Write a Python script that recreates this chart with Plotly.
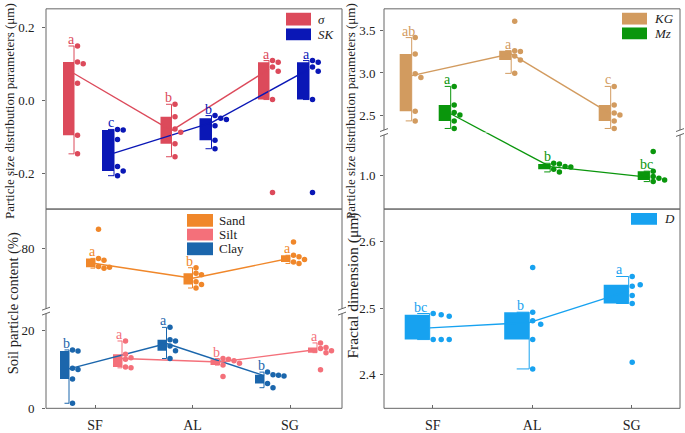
import numpy as np
import plotly.graph_objects as go

cats = ["SF", "AL", "SG"]

# top-left: sigma and SK
sigma_pts = [[0.150, 0.106, 0.101, 0.048, -0.095, -0.146],
             [-0.010, -0.044, -0.078, -0.087, -0.118, -0.154],
             [0.110, 0.1055, 0.092, 0.081, 0.003, -0.252]]
sigma_letters = ["a", "b", "a"]
sk_pts = [[-0.079, -0.0805, -0.107, -0.181, -0.193, -0.206],
          [-0.041, -0.048, -0.052, -0.069, -0.109, -0.132],
          [0.110, 0.1055, 0.092, 0.081, 0.003, -0.252]]
sk_letters = ["c", "b", "a"]

# top-right: KG and Mz
kg_pts = [[3.42, 3.226, 2.99, 2.945, 2.545, 2.43],
          [3.615, 3.265, 3.255, 3.2, 3.155, 2.995],
          [2.84, 2.62, 2.525, 2.5, 2.43, 2.34]]
kg_letters = ["ab", "a", "c"]
mz_pts = [[2.84, 2.62, 2.53, 2.5, 2.43, 2.34],
          [1.148, 1.14, 1.11, 1.105, 1.078, 1.045],
          [1.288, 1.054, 0.99, 0.97, 0.95, 0.93]]
mz_letters = ["a", "b", "bc"]

# bottom-left: soil particle content
sand_pts = [[85.0, 77.5, 77.0, 75.4, 75.0, 75.2],
            [75.1, 73.7, 73.3, 71.5, 70.8, 69.9],
            [81.7, 78.3, 77.9, 77.2, 76.6, 76.2]]
sand_letters = ["a", "b", "a"]
silt_pts = [[17.3, 13.9, 13.0, 12.6, 10.6, 10.4],
            [12.8, 12.6, 12.2, 11.6, 11.1, 8.2],
            [16.8, 15.6, 15.4, 14.8, 14.3, 9.9]]
silt_letters = ["a", "b", "a"]
clay_pts = [[15.0, 14.7, 10.3, 10.0, 7.5, 1.3],
            [20.8, 17.6, 17.3, 16.0, 14.8, 12.8],
            [9.3, 8.6, 8.5, 8.3, 6.4, 5.3]]
clay_letters = ["b", "a", "b"]

# bottom-right: fractal dimension
d_pts = [[2.492, 2.490, 2.488, 2.453, 2.453, 2.453],
         [2.561, 2.494, 2.481, 2.476, 2.453, 2.409],
         [2.5475, 2.533, 2.519, 2.535, 2.507, 2.419]]
d_letters = ["bc", "b", "a"]

# tick values / labels per y axis
a_ticks = [-0.2, 0.0, 0.2]
a_ticktext = ["-0.2", "0.0", "0.2"]
b_up_ticks = [2.5, 3.0, 3.5]
b_lo_ticks = [1.0]
c_up_ticks = [80]
c_lo_ticks = [0, 20]
d_ticks = [2.4, 2.5, 2.6]

W, H = 685, 433
FONT = "Liberation Serif, Times New Roman, DejaVu Serif, serif"
FRAME = "#666666"
TXT = "#222222"


def fx(p):
    return p / W


def fy(p):
    return 1 - p / H


# panel geometry in pixels; segs = (axis id, lo, hi, px top, px bottom)
panels = {
    "a": dict(x0=46, x1=342, c0=95, c2=290, segs=[(1, -0.2976, 0.252, 9, 213)]),
    "b": dict(x0=384, x1=680, c0=432.7, c2=631.7,
              segs=[(2, 2.292, 3.762, 9, 135), (3, 0.603, 1.514, 135, 213)]),
    "c": dict(x0=46, x1=342, c0=95, c2=290,
              segs=[(4, 63.96, 90.16, 213, 317), (5, 0.0, 24.97, 317, 416)]),
    "d": dict(x0=384, x1=680, c0=432.7, c2=631.7, segs=[(6, 2.35, 2.6485, 213, 416)]),
}
for p in panels.values():
    p["step"] = (p["c2"] - p["c0"]) / 2.0


def ax(n):
    return ("x", "y") if n == 1 else ("x%d" % n, "y%d" % n)


def seg_for(panel, v):
    for s in panel["segs"]:
        if s[1] <= v <= s[2]:
            return s
    return panel["segs"][0]


def vpx(s, v):
    return s[3] + (s[2] - v) / (s[2] - s[1]) * (s[4] - s[3])


def stats(vals):
    s = sorted(vals)
    h = len(s) // 2
    q1 = float(np.median(s[:h]))
    q3 = float(np.median(s[len(s) - h:]))
    med = float(np.median(s))
    iqr = q3 - q1
    inside = [v for v in s if q1 - 1.5 * iqr <= v <= q3 + 1.5 * iqr]
    return q1, med, q3, min(inside), max(inside)


def columns(panel, vals, gap=5.0):
    placed, cols = [], []
    for v in vals:
        y = vpx(seg_for(panel, v), v)
        k = 0
        while any(c == k and abs(yy - y) < gap for c, yy in placed):
            k += 1
        placed.append((k, y))
        cols.append(k)
    return cols


# (panel, color, points, letters, box right edge offset px, box width px, dot step px, letter shift px)
series = [
    ("a", "#DC4A5B", sigma_pts, sigma_letters, -21, 11, 5.7, 3),
    ("a", "#0A17B6", sk_pts, sk_letters, 19, 12, 5.7, 3),
    ("b", "#D29B5F", kg_pts, kg_letters, -21, 12, 5.7, 3),
    ("b", "#0A960C", mz_pts, mz_letters, 18, 12, 5.7, 3),
    ("c", "#1B66AC", clay_pts, clay_letters, -26, 9, 5.5, 3),
    ("c", "#F0872A", sand_pts, sand_letters, 0, 9, 5.5, 3),
    ("c", "#F4707A", silt_pts, silt_letters, 27, 9, 5.5, 3),
    ("d", "#17A2F0", d_pts, d_letters, -3, 25, 8.0, 9),
]

fig = go.Figure()
annotations = []

# median lines first, so the boxes sit on top of them
for pk, color, pts, letters, off, bw, dstep, lsh in series:
    panel = panels[pk]
    u = 1.0 / panel["step"]
    meds = [stats(p)[1] for p in pts]
    xs = [i + off * u for i in range(len(cats))]
    lines = {}
    for i in range(len(xs) - 1):
        x1, v1, x2, v2 = xs[i], meds[i], xs[i + 1], meds[i + 1]
        s1, s2 = seg_for(panel, v1), seg_for(panel, v2)
        if s1 == s2:
            lines.setdefault(s1[0], []).extend([(x1, v1), (x2, v2), (None, None)])
        else:
            up, lo = (s1, s2) if s1[3] < s2[3] else (s2, s1)
            yb = up[4]
            p1, p2 = vpx(s1, v1), vpx(s2, v2)
            t = (yb - p1) / (p2 - p1)
            xb = x1 + t * (x2 - x1)
            e1 = s1[1] if s1 is up else s1[2]
            e2 = s2[2] if s2 is lo else s2[1]
            lines.setdefault(s1[0], []).extend([(x1, v1), (xb, e1), (None, None)])
            lines.setdefault(s2[0], []).extend([(xb, e2), (x2, v2), (None, None)])
    for n, xy in lines.items():
        xa, ya = ax(n)
        fig.add_trace(go.Scatter(x=[a for a, b in xy], y=[b for a, b in xy], mode="lines",
                                 line=dict(color=color, width=1.4), xaxis=xa, yaxis=ya,
                                 showlegend=False, hoverinfo="skip"))

for pk, color, pts, letters, off, bw, dstep, lsh in series:
    panel = panels[pk]
    u = 1.0 / panel["step"]
    for i, p in enumerate(pts):
        q1, med, q3, wlo, whi = stats(p)
        s = seg_for(panel, med)
        xa, ya = ax(s[0])
        xr = i + off * u
        fig.add_trace(go.Bar(x=[xr - bw * u / 2], y=[q3 - q1], base=[q1], width=bw * u,
                             marker=dict(color=color, line=dict(width=0)),
                             xaxis=xa, yaxis=ya, showlegend=False, hoverinfo="skip"))
        cap = bw * u / 2
        fig.add_trace(go.Scatter(x=[xr - cap, xr, xr, xr - cap], y=[whi, whi, wlo, wlo],
                                 mode="lines", line=dict(color=color, width=1),
                                 xaxis=xa, yaxis=ya, showlegend=False, hoverinfo="skip"))
        cols = columns(panel, p)
        by_seg = {}
        for v, c in zip(p, cols):
            sv = seg_for(panel, v)
            by_seg.setdefault(sv[0], []).append((xr + (3.5 + c * dstep) * u, v))
        for n, xy in by_seg.items():
            pxa, pya = ax(n)
            fig.add_trace(go.Scatter(x=[a for a, b in xy], y=[b for a, b in xy], mode="markers",
                                     marker=dict(color=color, size=5.5, line=dict(width=0)),
                                     xaxis=pxa, yaxis=pya, showlegend=False, hoverinfo="skip"))
        annotations.append(dict(x=xr - lsh * u, y=whi, xref=xa, yref=ya, text=letters[i],
                                showarrow=False, yanchor="bottom", xanchor="center", yshift=-3,
                                font=dict(family=FONT, size=14, color=color)))

layout_axes = {}
tick_map = {1: (a_ticks, a_ticktext), 2: (b_up_ticks, ["%.1f" % v for v in b_up_ticks]),
            3: (b_lo_ticks, ["%.1f" % v for v in b_lo_ticks]),
            4: (c_up_ticks, [str(v) for v in c_up_ticks]),
            5: (c_lo_ticks, [str(v) for v in c_lo_ticks]),
            6: (d_ticks, ["%.1f" % v for v in d_ticks])}
for pk, panel in panels.items():
    step = panel["step"]
    xlo = -(panel["c0"] - panel["x0"]) / step
    xhi = 2 + (panel["x1"] - panel["c2"]) / step
    for n, lo, hi, pt, pb in panel["segs"]:
        xname = "xaxis" if n == 1 else "xaxis%d" % n
        yname = "yaxis" if n == 1 else "yaxis%d" % n
        bottom = n in (5, 6)
        layout_axes[xname] = dict(domain=[fx(panel["x0"]), fx(panel["x1"])], range=[xlo, xhi],
                                  anchor=ax(n)[1], showgrid=False, zeroline=False, showline=False,
                                  tickvals=[0, 1, 2] if bottom else [], ticktext=cats if bottom else [],
                                  ticks="inside" if bottom else "", ticklen=3, tickcolor=FRAME,
                                  showticklabels=bottom, ticklabelstandoff=7,
                                  tickfont=dict(family=FONT, size=14, color=TXT))
        tv, tt = tick_map[n]
        layout_axes[yname] = dict(domain=[fy(pb), fy(pt)], range=[lo, hi], anchor=ax(n)[0],
                                  showgrid=False, zeroline=False, showline=False,
                                  tickvals=tv, ticktext=tt, ticks="outside", ticklen=3,
                                  ticklabelstandoff=5 if pk in ("a", "c") else 2,
                                  tickcolor=FRAME, tickfont=dict(family=FONT, size=13, color=TXT))

shapes = []
for x0, y0, x1, y1 in [(46, 9, 342, 213), (384, 9, 680, 213), (46, 213, 342, 416), (384, 213, 680, 416)]:
    shapes.append(dict(type="rect", xref="paper", yref="paper", x0=fx(x0), x1=fx(x1),
                       y0=fy(y1), y1=fy(y0), line=dict(color=FRAME, width=1)))
for bx, by in [(384, 135), (680, 135), (46, 317), (342, 317)]:
    shapes.append(dict(type="line", xref="paper", yref="paper", x0=fx(bx), x1=fx(bx),
                       y0=fy(by + 2.5), y1=fy(by - 2.5), line=dict(color="white", width=3)))
    for d in (-2.5, 2.5):
        shapes.append(dict(type="line", xref="paper", yref="paper", x0=fx(bx - 4), x1=fx(bx + 4),
                           y0=fy(by + d + 1.5), y1=fy(by + d - 1.5), line=dict(color=FRAME, width=1)))

# legends
legends = [
    (286, 311, 316, [("#DC4A5B", 13, 26, "<i>σ</i>"), ("#0A17B6", 29, 41, "<i>SK</i>")]),
    (622, 647, 652, [("#D29B5F", 13, 25, "<i>KG</i>"), ("#0A960C", 28, 40, "<i>Mz</i>")]),
    (187, 213, 217, [("#F0872A", 218, 231, "Sand"), ("#F4707A", 233, 245, "Silt"),
                     ("#1B66AC", 247, 260, "Clay")]),
    (631, 657, 662, [("#17A2F0", 217, 229, "<i>D</i>")]),
]
for lx0, lx1, tx, items in legends:
    for color, ly0, ly1, label in items:
        shapes.append(dict(type="rect", xref="paper", yref="paper", x0=fx(lx0), x1=fx(lx1),
                           y0=fy(ly1), y1=fy(ly0), line=dict(width=0), fillcolor=color))
        annotations.append(dict(x=fx(tx), y=fy((ly0 + ly1) / 2), xref="paper", yref="paper",
                                text=label, showarrow=False, xanchor="left", yanchor="middle",
                                font=dict(family=FONT, size=13, color=TXT)))

# axis titles
for tx, ty, text, size in [(10, 113, "Particle size distribution parameters (μm)", 13),
                           (351, 113, "Particle size distribution parameters (μm)", 13),
                           (13, 309, "Soil particle content (%)", 14.5),
                           (353, 291, "Fractal dimension (μm)", 15.5)]:
    annotations.append(dict(x=fx(tx), y=fy(ty), xref="paper", yref="paper", text=text,
                            textangle=-90, showarrow=False, xanchor="center", yanchor="middle",
                            font=dict(family=FONT, size=size, color=TXT)))

fig.update_layout(width=W, height=H, autosize=False, margin=dict(l=0, r=0, t=0, b=0),
                  paper_bgcolor="white", plot_bgcolor="white", barmode="overlay",
                  shapes=shapes, annotations=annotations, showlegend=False, **layout_axes)

fig.write_html("out.html", config={"displayModeBar": False},
               post_script="document.body.style.margin='0';document.body.style.padding='0';"
                           "document.body.style.overflow='hidden';")
